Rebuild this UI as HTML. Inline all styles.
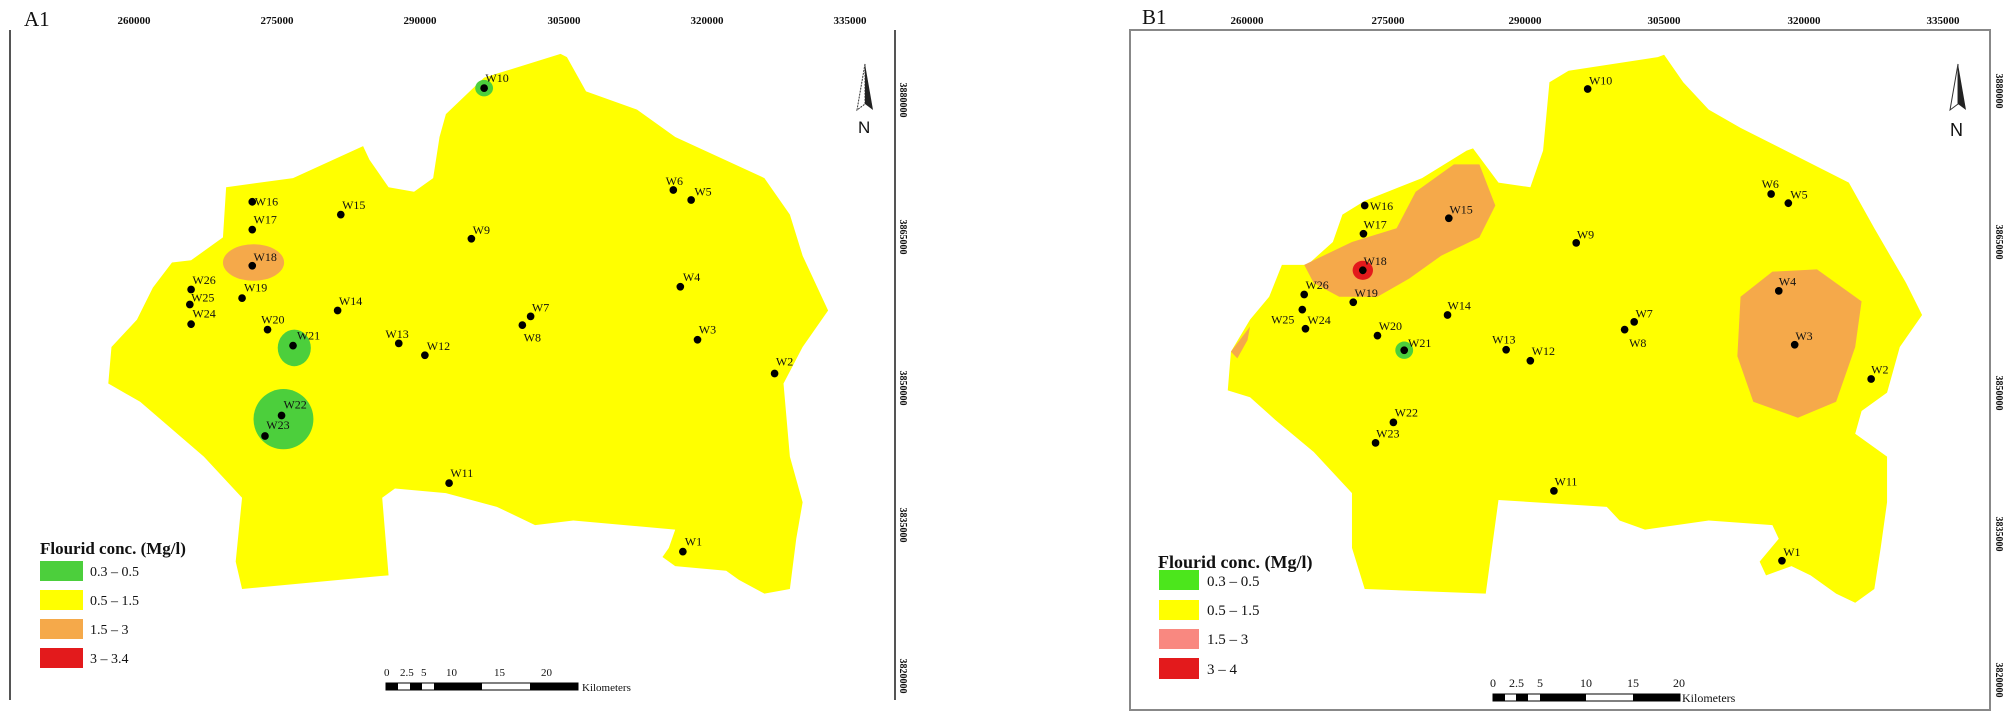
<!DOCTYPE html>
<html><head><meta charset="utf-8"><style>
html,body{margin:0;padding:0;background:#fff;width:2008px;height:717px;overflow:hidden}
svg text{font-family:"Liberation Serif",serif;fill:#111}
</style></head><body>
<svg width="2008" height="717" viewBox="0 0 2008 717" xmlns="http://www.w3.org/2000/svg">
<!-- LEFT PANEL -->
<text x="24" y="26" font-size="21">A1</text>
<line x1="10" y1="30" x2="10" y2="700" stroke="#555" stroke-width="2"/>
<line x1="895" y1="30" x2="895" y2="700" stroke="#555" stroke-width="2"/>
<g font-size="11" text-anchor="middle" font-weight="bold">
<text x="134" y="24">260000</text><text x="277" y="24">275000</text><text x="420" y="24">290000</text>
<text x="564" y="24">305000</text><text x="707" y="24">320000</text><text x="850" y="24">335000</text>
</g>
<g font-size="10" font-weight="bold">
<text transform="translate(900 100) rotate(90)" text-anchor="middle">3880000</text>
<text transform="translate(900 237) rotate(90)" text-anchor="middle">3865000</text>
<text transform="translate(900 388) rotate(90)" text-anchor="middle">3850000</text>
<text transform="translate(900 525) rotate(90)" text-anchor="middle">3835000</text>
<text transform="translate(900 676) rotate(90)" text-anchor="middle">3820000</text>
</g>
<g transform="scale(0.637,0.4566)">
<polygon fill="#ffff00" points="700,250 760,170 880,118 890,125 920,200 1000,240 1060,300 1200,390 1240,470 1260,560 1300,680 1280,720 1260,760 1230,840 1240,1000 1260,1100 1250,1180 1240,1290 1200,1300 1160,1270 1140,1250 1060,1240 1040,1220 1050,1200 1060,1160 900,1140 840,1150 780,1110 700,1080 620,1070 600,1090 610,1260 380,1290 370,1230 380,1090 320,1000 220,880 170,840 175,760 215,700 240,630 270,575 300,570 350,520 355,410 460,390 570,320 580,350 610,410 650,420 680,390 690,300"/>
<ellipse cx="398" cy="575" rx="48" ry="40" fill="#f5a94a"/>
<ellipse cx="760" cy="193" rx="14" ry="18" fill="#4ccf3c"/>
<ellipse cx="462" cy="762" rx="26" ry="40" fill="#4ccf3c"/>
<ellipse cx="445" cy="918" rx="47" ry="66" fill="#4ccf3c"/>
<g fill="#000">
<ellipse cx="760" cy="193" rx="6" ry="8.5"/><ellipse cx="1057" cy="416" rx="6" ry="8.5"/><ellipse cx="1085" cy="438" rx="6" ry="8.5"/>
<ellipse cx="396" cy="442" rx="6" ry="8.5"/><ellipse cx="535" cy="470" rx="6" ry="8.5"/><ellipse cx="396" cy="503" rx="6" ry="8.5"/>
<ellipse cx="740" cy="523" rx="6" ry="8.5"/><ellipse cx="396" cy="582" rx="6" ry="8.5"/><ellipse cx="1068" cy="628" rx="6" ry="8.5"/>
<ellipse cx="300" cy="634" rx="6" ry="8.5"/><ellipse cx="380" cy="653" rx="6" ry="8.5"/><ellipse cx="298" cy="667" rx="6" ry="8.5"/>
<ellipse cx="530" cy="680" rx="6" ry="8.5"/><ellipse cx="833" cy="693" rx="6" ry="8.5"/><ellipse cx="820" cy="712" rx="6" ry="8.5"/>
<ellipse cx="300" cy="710" rx="6" ry="8.5"/><ellipse cx="420" cy="722" rx="6" ry="8.5"/><ellipse cx="1095" cy="744" rx="6" ry="8.5"/>
<ellipse cx="460" cy="757" rx="6" ry="8.5"/><ellipse cx="626" cy="752" rx="6" ry="8.5"/><ellipse cx="667" cy="778" rx="6" ry="8.5"/>
<ellipse cx="1216" cy="818" rx="6" ry="8.5"/><ellipse cx="442" cy="910" rx="6" ry="8.5"/><ellipse cx="416" cy="955" rx="6" ry="8.5"/>
<ellipse cx="705" cy="1058" rx="6" ry="8.5"/><ellipse cx="1072" cy="1208" rx="6" ry="8.5"/>
</g>
<g font-size="12">
<text transform="translate(762 180) scale(1.57 2.19)">W10</text>
<text transform="translate(1045 405) scale(1.57 2.19)">W6</text>
<text transform="translate(1090 428) scale(1.57 2.19)">W5</text>
<text transform="translate(400 450) scale(1.57 2.19)">W16</text>
<text transform="translate(537 458) scale(1.57 2.19)">W15</text>
<text transform="translate(398 490) scale(1.57 2.19)">W17</text>
<text transform="translate(742 512) scale(1.57 2.19)">W9</text>
<text transform="translate(398 572) scale(1.57 2.19)">W18</text>
<text transform="translate(1072 615) scale(1.57 2.19)">W4</text>
<text transform="translate(302 622) scale(1.57 2.19)">W26</text>
<text transform="translate(383 638) scale(1.57 2.19)">W19</text>
<text transform="translate(300 660) scale(1.57 2.19)">W25</text>
<text transform="translate(532 668) scale(1.57 2.19)">W14</text>
<text transform="translate(835 682) scale(1.57 2.19)">W7</text>
<text transform="translate(822 748) scale(1.57 2.19)">W8</text>
<text transform="translate(302 695) scale(1.57 2.19)">W24</text>
<text transform="translate(410 708) scale(1.57 2.19)">W20</text>
<text transform="translate(1097 730) scale(1.57 2.19)">W3</text>
<text transform="translate(466 744) scale(1.57 2.19)">W21</text>
<text transform="translate(605 740) scale(1.57 2.19)">W13</text>
<text transform="translate(670 766) scale(1.57 2.19)">W12</text>
<text transform="translate(1218 800) scale(1.57 2.19)">W2</text>
<text transform="translate(445 895) scale(1.57 2.19)">W22</text>
<text transform="translate(418 940) scale(1.57 2.19)">W23</text>
<text transform="translate(707 1045) scale(1.57 2.19)">W11</text>
<text transform="translate(1075 1195) scale(1.57 2.19)">W1</text>
</g>
</g>
<!-- left north arrow -->
<polygon points="865,64 857,110 865,104" fill="#fff" stroke="#333" stroke-width="1" stroke-dasharray="2,1"/>
<polygon points="865,64 873,110 865,104" fill="#222"/>
<text x="858" y="133" font-family="Liberation Sans" font-size="17" style="font-family:'Liberation Sans',sans-serif">N</text>
<!-- left legend -->
<text x="40" y="554" font-size="17" font-weight="bold">Flourid conc. (Mg/l)</text>
<rect x="40" y="561" width="43" height="20" fill="#4ccf3c"/>
<rect x="40" y="590" width="43" height="20" fill="#ffff00"/>
<rect x="40" y="619" width="43" height="20" fill="#f5a94a"/>
<rect x="40" y="648" width="43" height="20" fill="#e31a1c"/>
<g font-size="14"><text x="90" y="576">0.3 – 0.5</text><text x="90" y="605">0.5 – 1.5</text><text x="90" y="634">1.5 – 3</text><text x="90" y="663">3 – 3.4</text></g>
<!-- left scale -->
<g font-size="11"><text x="384" y="676">0</text><text x="400" y="676">2.5</text><text x="421" y="676">5</text><text x="446" y="676">10</text><text x="494" y="676">15</text><text x="541" y="676">20</text></g>
<rect x="386" y="683" width="192" height="7" fill="#fff" stroke="#000" stroke-width="1"/>
<rect x="386" y="683" width="12" height="7" fill="#000"/><rect x="410" y="683" width="12" height="7" fill="#000"/>
<rect x="434" y="683" width="48" height="7" fill="#000"/><rect x="530" y="683" width="48" height="7" fill="#000"/>
<text x="582" y="691" font-size="11">Kilometers</text>

<!-- RIGHT PANEL -->
<text x="1142" y="24" font-size="21">B1</text>
<rect x="1130" y="30" width="860" height="680" fill="none" stroke="#888" stroke-width="2"/>
<g font-size="11" text-anchor="middle" font-weight="bold">
<text x="1247" y="24">260000</text><text x="1388" y="24">275000</text><text x="1525" y="24">290000</text>
<text x="1664" y="24">305000</text><text x="1804" y="24">320000</text><text x="1943" y="24">335000</text>
</g>
<g font-size="10" font-weight="bold">
<text transform="translate(1996 91) rotate(90)" text-anchor="middle">3880000</text>
<text transform="translate(1996 242) rotate(90)" text-anchor="middle">3865000</text>
<text transform="translate(1996 393) rotate(90)" text-anchor="middle">3850000</text>
<text transform="translate(1996 534) rotate(90)" text-anchor="middle">3835000</text>
<text transform="translate(1996 680) rotate(90)" text-anchor="middle">3820000</text>
</g>
<g transform="translate(1008,0) scale(0.637,0.4566)">
<polygon fill="#ffff00" points="850,180 880,155 1020,125 1030,120 1060,180 1100,240 1150,280 1320,400 1360,500 1410,620 1435,690 1400,760 1390,810 1380,860 1340,900 1330,950 1380,1000 1380,1100 1370,1200 1360,1290 1330,1320 1300,1300 1260,1260 1230,1240 1190,1260 1180,1230 1210,1180 1200,1150 1100,1140 1000,1160 960,1140 940,1110 770,1095 750,1300 560,1290 540,1200 540,1080 480,990 420,920 380,870 345,855 350,770 380,700 410,650 430,580 470,580 510,530 525,470 560,440 650,390 720,330 730,325 770,400 820,410 840,330"/>
<polygon fill="#f5a94a" points="465,580 540,530 610,500 640,420 700,360 740,360 765,450 740,520 680,560 630,610 580,650 520,650 480,620"/>
<polygon fill="#f5a94a" points="1150,650 1200,595 1270,590 1340,660 1330,760 1300,880 1240,915 1170,880 1145,780"/>
<polygon fill="#f5a94a" points="350,770 380,715 376,745 360,785"/>
<ellipse cx="557" cy="592" rx="16" ry="21" fill="#e31a1c"/>
<ellipse cx="622" cy="767" rx="14" ry="19" fill="#4ccf3c"/>
<g fill="#000">
<ellipse cx="910" cy="195" rx="6" ry="8.5"/><ellipse cx="1198" cy="425" rx="6" ry="8.5"/><ellipse cx="1225" cy="445" rx="6" ry="8.5"/>
<ellipse cx="560" cy="450" rx="6" ry="8.5"/><ellipse cx="692" cy="478" rx="6" ry="8.5"/><ellipse cx="558" cy="512" rx="6" ry="8.5"/>
<ellipse cx="892" cy="532" rx="6" ry="8.5"/><ellipse cx="557" cy="592" rx="6" ry="8.5"/><ellipse cx="1210" cy="637" rx="6" ry="8.5"/>
<ellipse cx="465" cy="645" rx="6" ry="8.5"/><ellipse cx="542" cy="662" rx="6" ry="8.5"/><ellipse cx="690" cy="690" rx="6" ry="8.5"/>
<ellipse cx="983" cy="705" rx="6" ry="8.5"/><ellipse cx="462" cy="678" rx="6" ry="8.5"/><ellipse cx="467" cy="720" rx="6" ry="8.5"/>
<ellipse cx="968" cy="722" rx="6" ry="8.5"/><ellipse cx="580" cy="735" rx="6" ry="8.5"/><ellipse cx="1235" cy="755" rx="6" ry="8.5"/>
<ellipse cx="622" cy="767" rx="6" ry="8.5"/><ellipse cx="782" cy="766" rx="6" ry="8.5"/><ellipse cx="820" cy="790" rx="6" ry="8.5"/>
<ellipse cx="1355" cy="830" rx="6" ry="8.5"/><ellipse cx="605" cy="925" rx="6" ry="8.5"/><ellipse cx="577" cy="970" rx="6" ry="8.5"/>
<ellipse cx="857" cy="1075" rx="6" ry="8.5"/><ellipse cx="1215" cy="1228" rx="6" ry="8.5"/>
</g>
<g font-size="12">
<text transform="translate(912 185) scale(1.57 2.19)">W10</text>
<text transform="translate(1183 412) scale(1.57 2.19)">W6</text>
<text transform="translate(1228 435) scale(1.57 2.19)">W5</text>
<text transform="translate(568 460) scale(1.57 2.19)">W16</text>
<text transform="translate(693 468) scale(1.57 2.19)">W15</text>
<text transform="translate(558 500) scale(1.57 2.19)">W17</text>
<text transform="translate(893 522) scale(1.57 2.19)">W9</text>
<text transform="translate(558 580) scale(1.57 2.19)">W18</text>
<text transform="translate(1210 625) scale(1.57 2.19)">W4</text>
<text transform="translate(467 633) scale(1.57 2.19)">W26</text>
<text transform="translate(544 650) scale(1.57 2.19)">W19</text>
<text transform="translate(690 678) scale(1.57 2.19)">W14</text>
<text transform="translate(985 695) scale(1.57 2.19)">W7</text>
<text transform="translate(413 708) scale(1.57 2.19)">W25</text>
<text transform="translate(470 710) scale(1.57 2.19)">W24</text>
<text transform="translate(975 760) scale(1.57 2.19)">W8</text>
<text transform="translate(582 723) scale(1.57 2.19)">W20</text>
<text transform="translate(1236 745) scale(1.57 2.19)">W3</text>
<text transform="translate(628 760) scale(1.57 2.19)">W21</text>
<text transform="translate(760 752) scale(1.57 2.19)">W13</text>
<text transform="translate(822 778) scale(1.57 2.19)">W12</text>
<text transform="translate(1355 818) scale(1.57 2.19)">W2</text>
<text transform="translate(607 912) scale(1.57 2.19)">W22</text>
<text transform="translate(578 958) scale(1.57 2.19)">W23</text>
<text transform="translate(858 1063) scale(1.57 2.19)">W11</text>
<text transform="translate(1217 1218) scale(1.57 2.19)">W1</text>
</g>
</g>
<!-- right north arrow -->
<polygon points="1958,64 1950,110 1958,104" fill="#fff" stroke="#333" stroke-width="1"/>
<polygon points="1958,64 1966,110 1958,104" fill="#222"/>
<text x="1950" y="136" font-size="18" style="font-family:'Liberation Sans',sans-serif">N</text>
<!-- right legend -->
<text x="1158" y="568" font-size="18" font-weight="bold">Flourid conc. (Mg/l)</text>
<rect x="1159" y="570" width="40" height="20" fill="#4ce61c"/>
<rect x="1159" y="600" width="40" height="20" fill="#ffff00"/>
<rect x="1159" y="629" width="40" height="20" fill="#f98880"/>
<rect x="1159" y="658" width="40" height="21" fill="#e31a1c"/>
<g font-size="15"><text x="1207" y="586">0.3 – 0.5</text><text x="1207" y="615">0.5 – 1.5</text><text x="1207" y="644">1.5 – 3</text><text x="1207" y="674">3 – 4</text></g>
<!-- right scale -->
<g font-size="12"><text x="1490" y="687">0</text><text x="1509" y="687">2.5</text><text x="1537" y="687">5</text><text x="1580" y="687">10</text><text x="1627" y="687">15</text><text x="1673" y="687">20</text></g>
<rect x="1493" y="694" width="187" height="7" fill="#fff" stroke="#000" stroke-width="1"/>
<rect x="1493" y="694" width="12" height="7" fill="#000"/><rect x="1516" y="694" width="12" height="7" fill="#000"/>
<rect x="1540" y="694" width="46" height="7" fill="#000"/><rect x="1633" y="694" width="47" height="7" fill="#000"/>
<text x="1682" y="702" font-size="12">Kilometers</text>
</svg>
</body></html>
